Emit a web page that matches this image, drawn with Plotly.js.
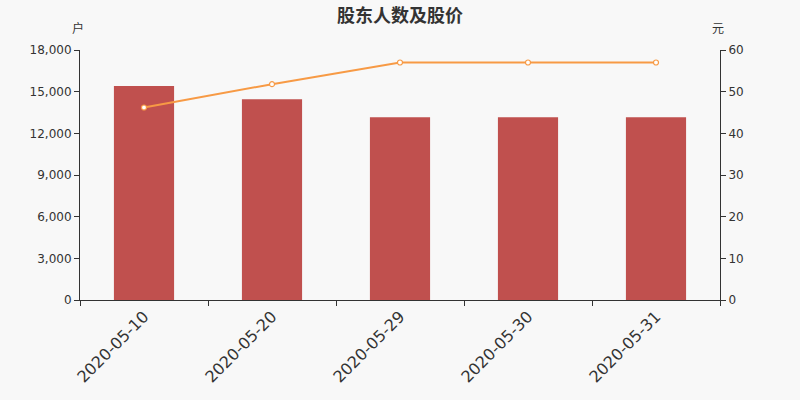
<!DOCTYPE html>
<html>
<head>
<meta charset="utf-8">
<script src="https://cdn.plot.ly/plotly-3.0.1.min.js"></script>
<style>
  html, body { margin: 0; padding: 0; background: #f8f8f8; }
  #chart { width: 800px; height: 400px; }
</style>
</head>
<body>
<div id="chart"></div>
<script>
// 股东人数（户）与股价（元）
const dates = ['2020-05-10', '2020-05-20', '2020-05-29', '2020-05-30', '2020-05-31'];
const holders = [15400, 14450, 13150, 13150, 13150];
const prices = [46.2, 51.8, 57.0, 57.0, 57.0];

const leftTicks = [0, 3000, 6000, 9000, 12000, 15000, 18000];
const rightTicks = [0, 10, 20, 30, 40, 50, 60];

const font = 'DejaVu Sans, Noto Sans CJK SC, sans-serif';
const axisColor = '#333333';

const barTrace = {
  x: dates,
  y: holders,
  type: 'bar',
  name: '股东人数',
  marker: { color: '#c0504e' },
  width: 0.47,
  hoverinfo: 'skip'
};

const lineTrace = {
  x: dates,
  y: prices,
  type: 'scatter',
  mode: 'lines+markers',
  name: '股价',
  yaxis: 'y2',
  line: { color: '#f79a45', width: 2 },
  marker: { size: 5, color: '#ffffff', line: { color: '#f79a45', width: 1.2 } },
  hoverinfo: 'skip'
};

const layout = {
  width: 800,
  height: 400,
  paper_bgcolor: '#f8f8f8',
  plot_bgcolor: '#f8f8f8',
  margin: { l: 80, r: 80, t: 50, b: 100 },
  showlegend: false,
  font: { family: font, color: axisColor, size: 12 },
  title: {
    text: '<b>股东人数及股价</b>',
    x: 0.5, xanchor: 'center',
    yref: 'container', y: 0.962, yanchor: 'middle',
    font: { family: 'Noto Sans CJK SC, sans-serif', size: 18, color: '#333333' }
  },
  xaxis: {
    type: 'category',
    tickson: 'boundaries',
    ticks: 'outside',
    ticklen: 5,
    tickcolor: axisColor,
    showline: true,
    linecolor: axisColor,
    linewidth: 1,
    showgrid: false,
    tickangle: -45,
    tickfont: { size: 16, color: axisColor, family: font }
  },
  yaxis: {
    range: [0, 18000],
    tickvals: leftTicks,
    ticktext: leftTicks.map(v => v.toLocaleString('en-US')),
    ticks: 'outside',
    ticklen: 5,
    tickcolor: axisColor,
    showline: true,
    linecolor: axisColor,
    showgrid: false,
    zeroline: false,
    tickfont: { size: 12, color: axisColor, family: font }
  },
  yaxis2: {
    overlaying: 'y',
    side: 'right',
    range: [0, 60],
    tickvals: rightTicks,
    ticks: 'outside',
    ticklen: 5,
    tickcolor: axisColor,
    showline: true,
    linecolor: axisColor,
    showgrid: false,
    zeroline: false,
    tickfont: { size: 12, color: axisColor, family: font }
  },
  annotations: [
    { text: '户', xref: 'paper', yref: 'paper', x: -0.003, y: 1.09, xanchor: 'center', yanchor: 'middle',
      showarrow: false, font: { size: 12, color: axisColor, family: 'Noto Sans CJK SC, sans-serif' } },
    { text: '元', xref: 'paper', yref: 'paper', x: 0.997, y: 1.09, xanchor: 'center', yanchor: 'middle',
      showarrow: false, font: { size: 12, color: axisColor, family: 'Noto Sans CJK SC, sans-serif' } }
  ]
};

Plotly.newPlot('chart', [barTrace, lineTrace], layout, { displayModeBar: false, staticPlot: true });
</script>
</body>
</html>
